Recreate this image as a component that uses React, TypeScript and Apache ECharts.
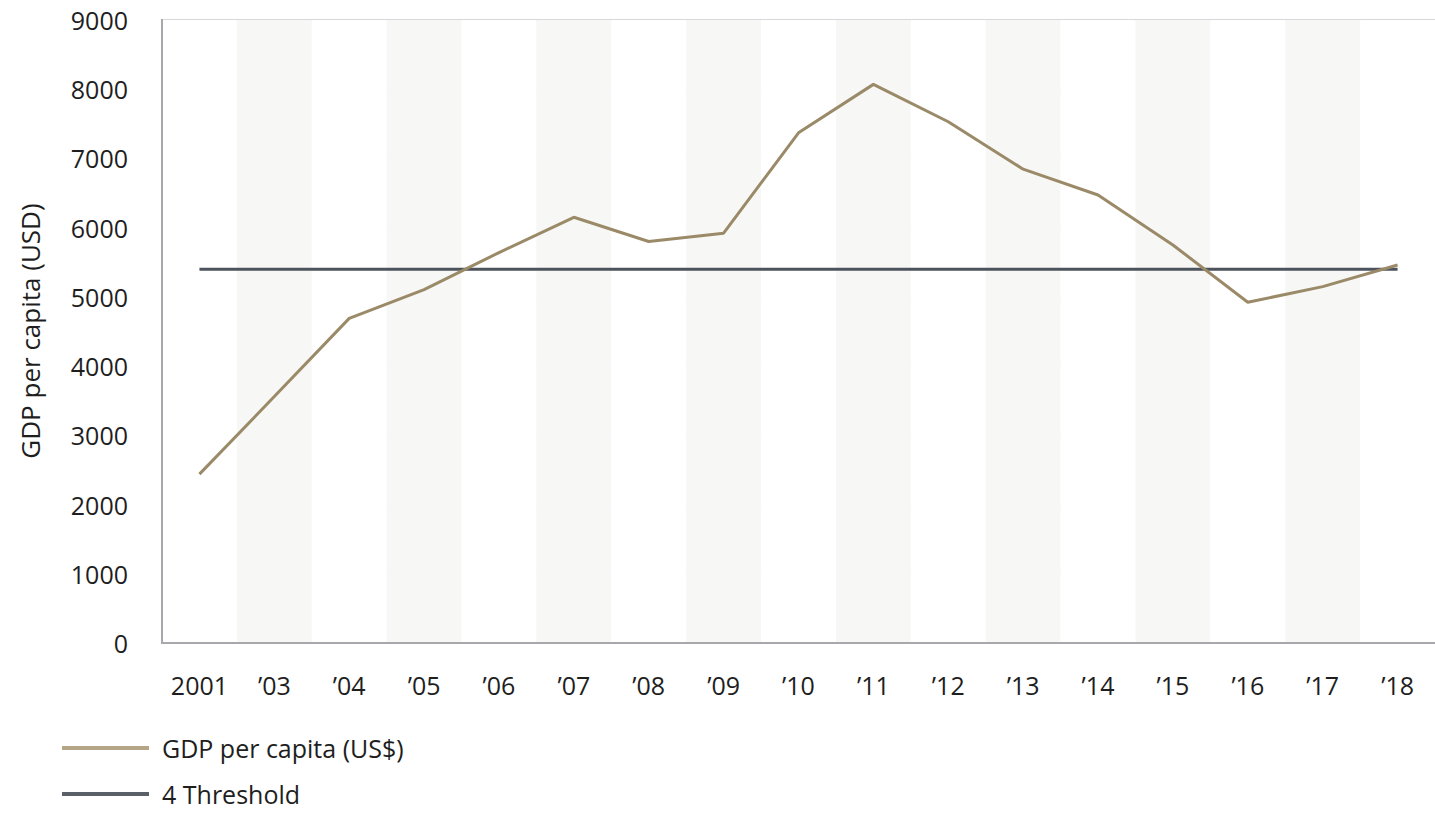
import React, { useEffect, useRef } from "react";
import * as echarts from "echarts";

// Years along the x axis
const years = ["2001", "’03", "’04", "’05", "’06", "’07", "’08", "’09", "’10", "’11", "’12", "’13", "’14", "’15", "’16", "’17", "’18"];

// GDP per capita, US$
const gdpPerCapita = [2440, 3560, 4690, 5105, 5640, 6150, 5800, 5920, 7370, 8070, 7530, 6845, 6472, 5750, 4922, 5148, 5461];

// Threshold level, US$
const thresholdLevel = 5400;
const threshold = years.map(() => thresholdLevel);

const FONT = "'Open Sans', 'Noto Sans', sans-serif";
const GDP_NAME = "GDP per capita (US$)";
const THRESHOLD_NAME = "4 Threshold";

const legendBase = {
  orient: "horizontal",
  left: 62,
  padding: 0,
  itemWidth: 87,
  itemHeight: 4,
  icon: "rect",
  textStyle: { fontFamily: FONT, fontSize: 25, lineHeight: 26, color: "#1e1e1e", padding: [0, 0, 0, 8] },
};

export default function App() {
  const ref = useRef<HTMLDivElement>(null);

  useEffect(() => {
    if (!ref.current) return;
    const chart = echarts.init(ref.current, undefined, { renderer: "svg" });
    chart.setOption({
      animation: false,
      backgroundColor: "#ffffff",
      textStyle: { fontFamily: FONT },
      grid: {
        left: 162,
        top: 20,
        width: 1277,
        height: 623,
        show: true,
        borderColor: "#a6a8ab",
        borderWidth: 2,
        backgroundColor: "transparent",
      },
      legend: [
        {
          ...legendBase,
          top: 735,
          data: [{ name: GDP_NAME, itemStyle: { color: "#b3a585" } }],
        },
        {
          ...legendBase,
          top: 781,
          data: [{ name: THRESHOLD_NAME, itemStyle: { color: "#5a6068" } }],
        },
      ],
      xAxis: {
        type: "category",
        data: years,
        boundaryGap: true,
        axisLine: { show: true, lineStyle: { color: "#a6a8ab", width: 2 } },
        axisTick: { show: false },
        axisLabel: { color: "#1e1e1e", fontSize: 25, fontFamily: FONT, margin: 29 },
        splitLine: { show: false },
        splitArea: { show: true, areaStyle: { color: ["#ffffff", "#f7f7f5"] } },
      },
      yAxis: {
        type: "value",
        min: 0,
        max: 9000,
        interval: 1000,
        axisLine: { show: true, lineStyle: { color: "#a6a8ab", width: 2 } },
        axisTick: { show: false },
        axisLabel: {
          color: "#1e1e1e",
          fontSize: 25,
          fontFamily: FONT,
          margin: 34,
          formatter: (v: number) => String(v),
        },
        splitLine: { show: true, lineStyle: { color: "#e8e8ea", width: 1.5 } },
      },
      graphic: [
        {
          type: "text",
          x: 30,
          y: 331,
          rotation: Math.PI / 2,
          style: {
            text: "GDP per capita (USD)",
            fontFamily: FONT,
            fontSize: 26,
            fill: "#1e1e1e",
            align: "center",
            verticalAlign: "middle",
          },
        },
      ],
      series: [
        {
          name: GDP_NAME,
          type: "line",
          data: gdpPerCapita,
          symbol: "none",
          lineStyle: { color: "#9a8a68", width: 3 },
          itemStyle: { color: "#9a8a68" },
          z: 3,
        },
        {
          name: THRESHOLD_NAME,
          type: "line",
          data: threshold,
          symbol: "none",
          lineStyle: { color: "#4d535c", width: 3 },
          itemStyle: { color: "#4d535c" },
          z: 2,
        },
      ],
    });
    return () => chart.dispose();
  }, []);

  return (
    <div
      ref={ref}
      style={{ position: "absolute", left: 0, top: 0, width: 1435, height: 815, background: "#ffffff" }}
    />
  );
}
